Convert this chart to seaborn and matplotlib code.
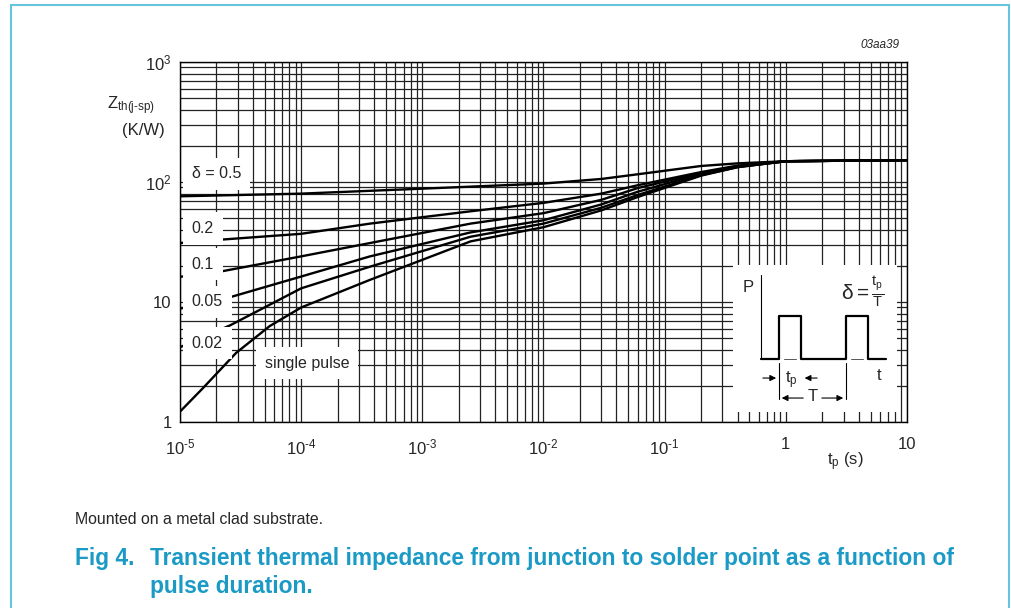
import pandas as pd
import seaborn as sns
import matplotlib.pyplot as plt
from matplotlib.lines import Line2D

# curve data (tp in s, Zth in K/W)
tp_05 = [1e-5, 1e-4, 1e-3, 1e-2, 3e-2, 6e-2, 0.2, 0.4, 1, 10]
zth_05 = [76, 80, 88, 97, 106, 116, 136, 143, 149, 152]

tp_02 = [1e-5, 2.1e-5, 1e-4, 3.7e-4, 2.5e-3, 1e-2, 3e-2, 6e-2, 0.2, 0.4, 1, 10]
zth_02 = [31, 33, 37, 45, 57, 67, 80, 94, 121, 137, 149, 152]

tp_01 = [1e-5, 2.2e-5, 1e-4, 3.7e-4, 2.5e-3, 1e-2, 3e-2, 6e-2, 0.2, 0.4, 1, 10]
zth_01 = [16.2, 18, 24, 31, 45, 55, 71, 89, 119, 135, 149, 152]

tp_005 = [1e-5, 2.7e-5, 1e-4, 3.7e-4, 2.5e-3, 1e-2, 3e-2, 6e-2, 0.2, 0.4, 1, 10]
zth_005 = [8.8, 11.1, 16.3, 24, 38, 48, 65, 83, 117, 134, 149, 152]

tp_002 = [1e-5, 2.6e-5, 1e-4, 3.7e-4, 2.5e-3, 1e-2, 3e-2, 6e-2, 0.2, 0.4, 1, 10]
zth_002 = [4.2, 6.4, 13, 19.7, 35, 45, 61, 78, 114, 133, 149, 152]

tp_single = [1e-5, 1.55e-5, 2.9e-5, 5.5e-5, 1e-4, 3.7e-4, 2.5e-3, 1e-2, 3e-2, 6e-2, 0.2, 0.4, 1, 10]
zth_single = [1.22, 1.92, 3.76, 6.3, 9.0, 15.3, 32, 42, 58, 75, 113, 133, 149, 152]

curve_names = ['0.5', '0.2', '0.1', '0.05', '0.02', 'single']
curve_tp = [tp_05, tp_02, tp_01, tp_005, tp_002, tp_single]
curve_zth = [zth_05, zth_02, zth_01, zth_005, zth_002, zth_single]

label_text = ['\u03b4 = 0.5', '0.2', '0.1', '0.05', '0.02', 'single pulse']
label_x = [1.25e-5, 1.25e-5, 1.25e-5, 1.25e-5, 1.25e-5, 5.0e-5]
label_y = [117, 41, 20.7, 10, 4.55, 3.1]

x_ticks = [1e-5, 1e-4, 1e-3, 1e-2, 1e-1, 1, 10]
x_tick_labels = [r'$10^{\text{-}5}$', r'$10^{\text{-}4}$', r'$10^{\text{-}3}$',
                 r'$10^{\text{-}2}$', r'$10^{\text{-}1}$', '1', '10']
y_ticks = [1, 10, 100, 1000]
y_tick_labels = ['1', '10', '$10^{2}$', '$10^{3}$']

# pulse sketch of the inset (inset units 0..1)
pulse_t = [0.171, 0.28, 0.28, 0.415, 0.415, 0.689, 0.689, 0.823, 0.823, 0.933]
pulse_p = [0.361, 0.361, 0.653, 0.653, 0.361, 0.361, 0.653, 0.653, 0.361, 0.361]

rows = []
for name, xs, ys in zip(curve_names, curve_tp, curve_zth):
    for x, y in zip(xs, ys):
        rows.append({'curve': name, 'tp': x, 'zth': y})
df = pd.DataFrame(rows)

sns.set_style('white')
plt.rcParams['font.family'] = ['Liberation Sans', 'DejaVu Sans']
plt.rcParams['mathtext.fontset'] = 'custom'
plt.rcParams['mathtext.rm'] = 'Liberation Sans'
plt.rcParams['mathtext.it'] = 'Liberation Sans:italic'
plt.rcParams['mathtext.bf'] = 'Liberation Sans:bold'
plt.rcParams['mathtext.default'] = 'regular'

fig = plt.figure(figsize=(10.12, 6.08), dpi=100)
ax = fig.add_axes([180 / 1012, 1 - 422 / 608, 727 / 1012, 360 / 608])

sns.lineplot(data=df, x='tp', y='zth', units='curve', estimator=None,
             color='black', linewidth=1.7, legend=False, ax=ax)
ax.set_xscale('log')
ax.set_yscale('log')
ax.set_xlim(1e-5, 10)
ax.set_ylim(1, 1000)
ax.set_axisbelow(True)
ax.grid(True, which='both', color='#222222', linewidth=0.9)
ax.tick_params(which='both', length=0, labelsize=12)
ax.tick_params(axis='x', pad=11)
ax.tick_params(axis='y', pad=6)
ax.set_xticks(x_ticks, x_tick_labels)
ax.set_yticks(y_ticks, y_tick_labels)
ax.set_xlabel('')
ax.set_ylabel('')
for s in ax.spines.values():
    s.set_color('black')
    s.set_linewidth(1)

for t, x, y in zip(label_text, label_x, label_y):
    ax.text(x, y, t, ha='left', va='center', fontsize=11.5, zorder=5,
            bbox=dict(boxstyle='square,pad=0.55', fc='white', ec='none'))

# inset with the pulse definition
ax_in = fig.add_axes([733 / 1012, 1 - 412 / 608, 164 / 1012, 147 / 608])
ax_in.set_facecolor('white')
ax_in.set_xlim(0, 1)
ax_in.set_ylim(0, 1)
ax_in.set_xticks([])
ax_in.set_yticks([])
for s in ax_in.spines.values():
    s.set_visible(False)
ax_in.plot(pulse_t, pulse_p, color='black', lw=1.6)
ax_in.plot([0.171, 0.171], [0.361, 0.932], color='black', lw=0.8)
ax_in.plot([0.31, 0.385], [0.361, 0.361], color='#555555', lw=0.7)
ax_in.plot([0.72, 0.79], [0.361, 0.361], color='#555555', lw=0.7)
ax_in.plot([0.28, 0.28], [0.33, 0.09], color='black', lw=0.8)
ax_in.plot([0.689, 0.689], [0.33, 0.09], color='black', lw=0.8)
arr = dict(arrowstyle='-|>', color='black', lw=0.8, mutation_scale=9)
ax_in.annotate('', xy=(0.28, 0.231), xytext=(0.165, 0.231), arrowprops=arr)
ax_in.annotate('', xy=(0.42, 0.231), xytext=(0.53, 0.231), arrowprops=arr)
ax_in.annotate('', xy=(0.28, 0.095), xytext=(0.445, 0.095), arrowprops=arr)
ax_in.annotate('', xy=(0.689, 0.095), xytext=(0.525, 0.095), arrowprops=arr)
ax_in.text(0.485, 0.105, 'T', ha='center', va='center', fontsize=12)
ax_in.text(0.355, 0.215, 't$_{p}$', ha='center', va='center', fontsize=12)
ax_in.text(0.89, 0.25, 't', ha='center', va='center', fontsize=12)
ax_in.text(0.09, 0.85, 'P', ha='center', va='center', fontsize=12)
ax_in.text(0.79, 0.82, r'$\delta = \frac{t_{p}}{T}$', ha='center', va='center', fontsize=15)

# axis titles and notes
fig.text(107 / 1012, 1 - 106 / 608, r'Z$_{th(j\text{-}sp)}$', fontsize=12, ha='left', va='center')
fig.text(143 / 1012, 1 - 130 / 608, '(K/W)', fontsize=12, ha='center', va='center')
fig.text(845 / 1012, 1 - 462 / 608, 't$_{p}$ (s)', fontsize=12, ha='center', va='center')
fig.text(880 / 1012, 1 - 45 / 608, '03aa39', fontsize=8.5, style='italic', ha='center', va='center')

cap_color = '#1b9ac6'
fig.text(75 / 1012, 1 - 519 / 608, 'Mounted on a metal clad substrate.', fontsize=11.4, va='center')
fig.text(75 / 1012, 1 - 558 / 608, 'Fig 4.', fontsize=16.4, weight='bold', color=cap_color, va='center')
fig.text(150 / 1012, 1 - 558 / 608,
         'Transient thermal impedance from junction to solder point as a function of',
         fontsize=16.4, weight='bold', color=cap_color, va='center')
fig.text(150 / 1012, 1 - 586 / 608, 'pulse duration.', fontsize=16.4, weight='bold',
         color=cap_color, va='center')

# light blue page frame
frame_color = '#66c4dc'
fig.add_artist(Line2D([11 / 1012, 11 / 1012], [0, 1 - 5 / 608], color=frame_color, lw=1.5))
fig.add_artist(Line2D([1009 / 1012, 1009 / 1012], [0, 1 - 5 / 608], color=frame_color, lw=1.5))
fig.add_artist(Line2D([11 / 1012, 1009 / 1012], [1 - 5 / 608, 1 - 5 / 608], color=frame_color, lw=1.5))

fig.savefig('out.png', dpi=100)
